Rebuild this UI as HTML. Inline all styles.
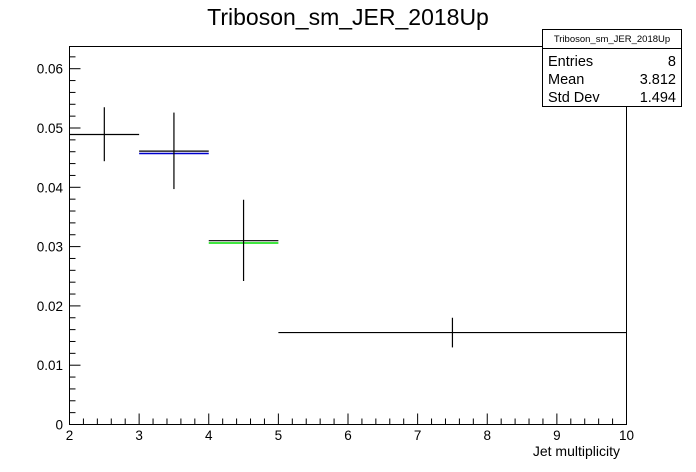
<!DOCTYPE html>
<html><head><meta charset="utf-8"><style>
body{margin:0;background:#fff}
svg{display:block;font-family:"Liberation Sans",Arial,sans-serif}
</style></head><body>
<svg width="696" height="472" viewBox="0 0 696 472" xmlns="http://www.w3.org/2000/svg">
<rect width="696" height="472" fill="#fff"/>
<text x="348" y="25" text-anchor="middle" font-size="23">Triboson_sm_JER_2018Up</text>
<rect x="69.5" y="46.5" width="557" height="378" fill="none" stroke="#000" stroke-width="1"/>
<g id="axes"></g>
<g id="marks"></g>
<text x="620" y="456" text-anchor="end" font-size="14">Jet multiplicity</text>
<g>
<rect x="542.5" y="29.5" width="139" height="77" fill="#fff" stroke="#000"/>
<line x1="542.5" y1="48.5" x2="681.5" y2="48.5" stroke="#000"/>
<text x="612" y="42" text-anchor="middle" font-size="9.5">Triboson_sm_JER_2018Up</text>
<text x="548" y="66" font-size="14.5">Entries</text><text x="676" y="66" text-anchor="end" font-size="14.5">8</text>
<text x="548" y="84" font-size="14.5">Mean</text><text x="676" y="84" text-anchor="end" font-size="14.5">3.812</text>
<text x="548" y="102" font-size="14.5">Std Dev</text><text x="676" y="102" text-anchor="end" font-size="14.5">1.494</text>
</g>
</svg>
<script>
const binLow=[2,3,4,5];
const binHigh=[3,4,5,10];
const values=[0.0489,0.0461,0.0310,0.0155];
const errUp=[0.0535,0.0526,0.0379,0.0180];
const errDown=[0.0444,0.0397,0.0242,0.0130];
const blueValues=[null,0.0457,null,null];
const greenValues=[null,null,0.0306,null];
const xTicks=[2,3,4,5,6,7,8,9,10];
const yTicks=[0,0.01,0.02,0.03,0.04,0.05,0.06];
const yTickLabels=["0","0.01","0.02","0.03","0.04","0.05","0.06"];

const NS="http://www.w3.org/2000/svg";
const X=v=>69.5+(v-2)*(557/8);
const Y=v=>424.5-v*5930;
function mk(tag,attrs,parent){const e=document.createElementNS(NS,tag);for(const k in attrs)e.setAttribute(k,attrs[k]);parent.appendChild(e);return e;}
const axes=document.getElementById('axes'),marks=document.getElementById('marks');
for(let v=2;v<=10.001;v+=0.2){const major=Math.abs(v-Math.round(v))<1e-6;
 const t=mk('line',{x1:X(v),x2:X(v),y1:424.5,y2:424.5-(major?11:6),stroke:'#000'},axes);
 
 }
xTicks.forEach(v=>{const t=mk('text',{x:X(v),y:440,'text-anchor':'middle','font-size':13.5},axes);t.textContent=v;
 
 });
for(let i=0;i<=31;i++){const v=i*0.002;if(Y(v)<46)break;const major=i%5===0;
 const t=mk('line',{x1:69.5,x2:69.5+(major?11:6),y1:Y(v),y2:Y(v),stroke:'#000'},axes);
 
 }
yTicks.forEach((v,i)=>{const t=mk('text',{x:63,y:Y(v)+5,'text-anchor':'end','font-size':13.5},axes);t.textContent=yTickLabels[i];
 
 });
function hl(arr,color,name){arr.forEach((v,i)=>{if(v==null)return;
 const l=mk('line',{x1:X(binLow[i]),x2:X(binHigh[i]),y1:Y(v),y2:Y(v),stroke:color,'stroke-width':1.5},marks);
 
 });}
hl(blueValues,'#0000cc','blue-hist-bin');
hl(greenValues,'#00dd00','green-hist-bin');
values.forEach((v,i)=>{const c=(binLow[i]+binHigh[i])/2;
 const h=mk('line',{x1:X(binLow[i]),x2:X(binHigh[i]),y1:Y(v),y2:Y(v),stroke:'#000','stroke-width':1.2},marks);
 
 
 const e=mk('line',{x1:X(c),x2:X(c),y1:Y(errUp[i]),y2:Y(errDown[i]),stroke:'#000','stroke-width':1.2},marks);
 
 });
</script>
</body></html>
